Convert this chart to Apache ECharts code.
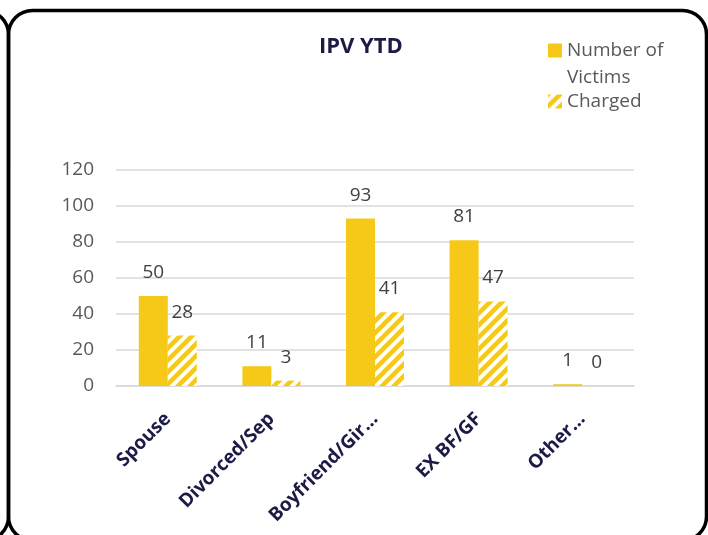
<!DOCTYPE html>
<html>
<head>
<meta charset="utf-8">
<script src="https://cdn.jsdelivr.net/npm/echarts@6/dist/echarts.min.js"></script>
<style>
  html, body { margin: 0; padding: 0; background: #fff; }
  #chart { width: 708px; height: 535px; }
</style>
</head>
<body>
<div id="chart"></div>
<script>
// ---------- IPV YTD ----------
var categories = ['Spouse', 'Divorced/Sep', 'Boyfriend/Gir\u2026', 'EX BF/GF', 'Other\u2026'];
var victims = [50, 11, 93, 81, 1];
var charged = [28, 3, 41, 47, 0];
var yTicks = { min: 0, max: 120, interval: 20 };

var gold = '#f6c918';
var navy = '#1b1b45';
var grey = '#595959';

// diagonal hatch for "Charged"
function hatch() {
    var s = 12;
    var c = document.createElement('canvas');
    c.width = s;
    c.height = s;
    var ctx = c.getContext('2d');
    ctx.fillStyle = '#ffffff';
    ctx.fillRect(0, 0, s, s);
    ctx.strokeStyle = gold;
    ctx.lineWidth = 4.5;
    ctx.beginPath();
    ctx.moveTo(-2, s + 2); ctx.lineTo(s + 2, -2);
    ctx.moveTo(-s / 2 - 2, s / 2 + 2); ctx.lineTo(s / 2 + 2, -s / 2 - 2);
    ctx.moveTo(s / 2 - 2, s * 1.5 + 2); ctx.lineTo(s * 1.5 + 2, s / 2 - 2);
    ctx.stroke();
    return c;
}

var chart = echarts.init(document.getElementById('chart'));

var option = {
    backgroundColor: '#fff',
    animation: false,
    textStyle: { fontFamily: 'Open Sans' },
    title: {
        text: 'IPV YTD',
        left: 314,
        top: 31,
        textStyle: { fontSize: 22, fontWeight: 'bold', color: navy, fontFamily: 'Open Sans' }
    },
    legend: {
        orient: 'vertical',
        left: 543,
        top: 5,
        itemWidth: 14,
        itemHeight: 14,
        itemGap: -3,
        textStyle: { fontSize: 19, color: grey, lineHeight: 27 },
        data: [
            { name: 'Number of Victims', icon: 'rect' },
            { name: 'Charged', icon: 'rect' }
        ],
        formatter: function (name) {
            // blank first line keeps the icon level with "Number of"
            return name === 'Number of Victims' ? '\nNumber of\nVictims' : name;
        }
    },
    grid: {
        left: 116,
        right: 74,
        top: 170,
        bottom: 149,
        outerBoundsMode: 'none'
    },
    xAxis: {
        type: 'category',
        data: categories,
        axisLine: { lineStyle: { color: '#d9d9d9', width: 1.5 } },
        axisTick: { show: false },
        axisLabel: {
            rotate: 45,
            interval: 0,
            margin: 30,
            color: navy,
            fontSize: 19,
            fontWeight: 'bold'
        }
    },
    yAxis: {
        type: 'value',
        min: yTicks.min,
        max: yTicks.max,
        interval: yTicks.interval,
        axisLine: { show: false },
        axisTick: { show: false },
        splitLine: { lineStyle: { color: '#d9d9d9', width: 1.5 } },
        axisLabel: { color: grey, fontSize: 19, margin: 22 }
    },
    series: [{
        name: 'Number of Victims',
        type: 'bar',
        data: victims,
        barWidth: 29,
        barGap: 0,
        itemStyle: { color: gold },
        label: { show: true, position: 'top', distance: 14, color: '#404040', fontSize: 19 }
    }, {
        name: 'Charged',
        type: 'bar',
        data: charged,
        barWidth: 29,
        itemStyle: { color: { image: hatch(), repeat: 'repeat' } },
        label: { show: true, position: 'top', distance: 14, color: '#404040', fontSize: 19 }
    }],
    graphic: [{
        type: 'rect',
        silent: true,
        shape: { x: 8.5, y: 10.5, width: 698, height: 530, r: 24 },
        style: { fill: 'none', stroke: '#000', lineWidth: 3.5 }
    }, {
        type: 'rect',
        silent: true,
        shape: { x: -690, y: 10.5, width: 698.5, height: 530, r: 24 },
        style: { fill: 'none', stroke: '#000', lineWidth: 3.5 }
    }]
};

chart.setOption(option);
</script>
</body>
</html>
